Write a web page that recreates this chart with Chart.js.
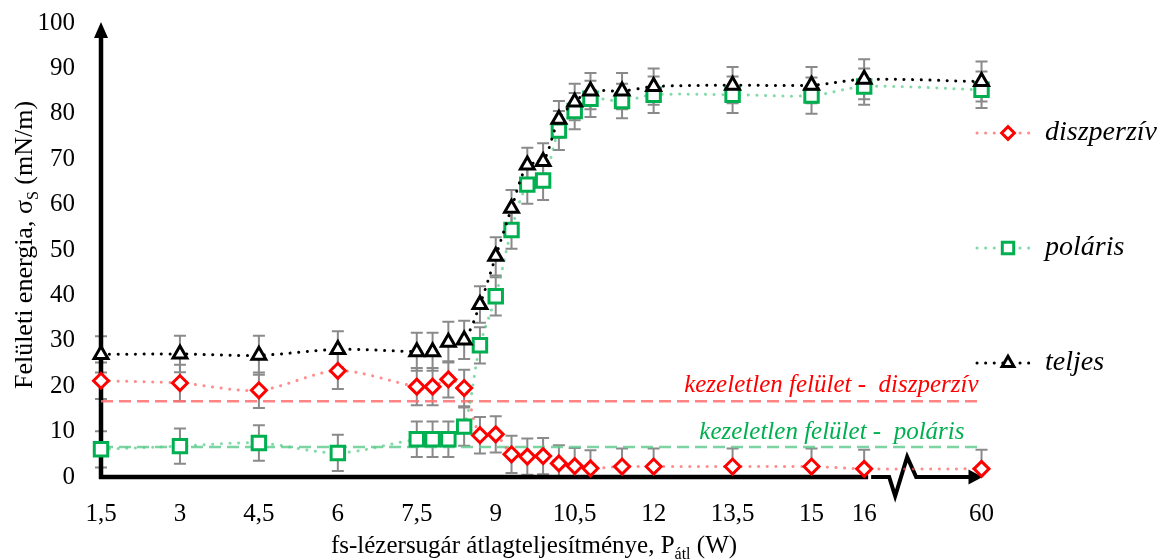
<!DOCTYPE html>
<html>
<head>
<meta charset="utf-8">
<script src="https://cdn.jsdelivr.net/npm/chart.js@4.4.1/dist/chart.umd.min.js"></script>
<style>
  html, body { margin: 0; padding: 0; background: #fff; }
  #wrap { width: 1167px; height: 560px; position: relative; }
</style>
</head>
<body>
<div id="wrap"><canvas id="chart"></canvas></div>
<script>
// átlagteljesítmény (W) - a 60 W pont a megtört tengely végén ül
const power = [1.5, 3, 4.5, 6, 7.5, 7.8, 8.1, 8.4, 8.7, 9, 9.3, 9.6, 9.9, 10.2, 10.5, 10.8, 11.4, 12, 13.5, 15, 16, 60];

const diszperziv = [21.2, 20.7, 19.1, 23.4, 19.9, 19.9, 21.5, 19.6, 9.2, 9.4, 5.0, 4.5, 4.6, 3.0, 2.4, 1.9, 2.3, 2.3, 2.3, 2.3, 1.8, 1.8];
const polaris    = [6.1, 6.8, 7.5, 5.3, 8.3, 8.3, 8.3, 11.1, 29.0, 39.8, 54.4, 64.4, 65.3, 76.3, 80.6, 83.3, 82.8, 84.2, 84.2, 84.0, 86.0, 85.3];
const teljes     = [27.0, 27.1, 26.8, 28.1, 27.6, 27.6, 29.7, 30.2, 38.0, 48.6, 59.2, 68.7, 69.5, 78.8, 82.6, 85.0, 85.0, 86.0, 86.3, 86.3, 87.6, 87.1];

// szórás (hibasávok)
const errDiszperziv = [4.0, 4.0, 3.9, 4.0, 4.1, 4.1, 4.0, 4.0, 4.0, 4.0, 4.1, 4.0, 4.0, 4.0, 4.0, 4.0, 4.0, 4.0, 4.0, 4.0, 4.2, 4.2];
const errPolaris    = [4.0, 3.9, 3.9, 4.0, 3.9, 3.9, 3.9, 4.2, 4.0, 4.2, 4.1, 4.2, 4.3, 4.3, 4.0, 4.0, 3.8, 4.0, 4.0, 4.0, 4.0, 4.0];
const errTeljes     = [4.0, 4.0, 4.3, 4.0, 4.2, 4.2, 4.5, 4.2, 4.0, 4.2, 4.0, 3.8, 4.0, 4.0, 4.0, 4.0, 4.0, 4.0, 4.0, 4.0, 4.4, 4.4];

// kezeletlen felület
const refDiszperziv = 16.7;
const refPolaris = 6.6;

const xTicks = [1.5, 3, 4.5, 6, 7.5, 9, 10.5, 12, 13.5, 15, 16, 60];
const yTicks = [0, 10, 20, 30, 40, 50, 60, 70, 80, 90, 100];

const BREAK_POS = 18.23;   // a 60 W helye a tengelyen
const X_MAX = 18.6;

const serif = "'Liberation Serif', 'Times New Roman', serif";

function axisPos(p) { return p === 60 ? BREAK_POS : p; }
function fmt(p) { return String(p).replace('.', ','); }

function series(label, values, errors, markerColor, lineColor, style, radius, order) {
    return {
        label: label,
        data: power.map((p, i) => ({ x: axisPos(p), y: values[i] })),
        errors: errors,
        inLegend: true,
        borderColor: lineColor,
        borderWidth: 3,
        borderDash: [0.1, 8.5],
        borderCapStyle: 'round',
        pointStyle: style,
        pointRadius: radius,
        pointHoverRadius: radius,
        pointBorderColor: markerColor,
        pointBackgroundColor: '#fff',
        pointBorderWidth: 3,
        tension: 0.3,
        clip: false,
        order: order
    };
}

function refLine(value, color, order) {
    return {
        label: 'ref',
        data: [{ x: 1.5, y: value }, { x: BREAK_POS, y: value }],
        borderColor: color,
        borderWidth: 2.5,
        borderDash: [12, 6],
        pointRadius: 0,
        tension: 0,
        order: order
    };
}

const datasets = [
    series('diszperzív', diszperziv, errDiszperziv, '#ff0000', 'rgba(255, 90, 90, 0.7)', 'rectRot', 7.5, 3),
    series('poláris', polaris, errPolaris, '#00b050', 'rgba(90, 205, 140, 0.75)', 'rect', 9.5, 2),
    series('teljes', teljes, errTeljes, '#000000', '#000000', 'triangle', 8, 1),
    refLine(refDiszperziv, 'rgba(255, 110, 110, 0.85)', 5),
    refLine(refPolaris, 'rgba(100, 205, 145, 0.85)', 6)
];

// hibasávok
const errorBars = {
    id: 'errorBars',
    beforeDatasetsDraw(chart) {
        const { ctx, scales: { x, y } } = chart;
        ctx.save();
        ctx.strokeStyle = '#8a8a8a';
        ctx.lineWidth = 2;
        chart.data.datasets.forEach(ds => {
            if (!ds.errors) return;
            ds.data.forEach((pt, i) => {
                const px = x.getPixelForValue(pt.x);
                const hi = pt.y + ds.errors[i];
                const lo = pt.y - ds.errors[i];
                const top = y.getPixelForValue(Math.min(100, hi));
                const bot = y.getPixelForValue(Math.max(0, lo));
                ctx.beginPath();
                ctx.moveTo(px, top);
                ctx.lineTo(px, bot);
                ctx.moveTo(px - 6, top);
                ctx.lineTo(px + 6, top);
                if (lo >= 0) {
                    ctx.moveTo(px - 6, bot);
                    ctx.lineTo(px + 6, bot);
                }
                ctx.stroke();
            });
        });
        ctx.restore();
    }
};

// tengelyek nyíllal, megtört x tengely
const brokenAxes = {
    id: 'brokenAxes',
    beforeDatasetsDraw(chart) {
        const { ctx, scales: { x, y } } = chart;
        const y0 = y.getPixelForValue(0);
        const yTop = y.getPixelForValue(100);
        const x0 = x.getPixelForValue(1.5);
        const xb = x.getPixelForValue(16);
        const xe = x.getPixelForValue(BREAK_POS);
        ctx.save();
        ctx.strokeStyle = '#000';
        ctx.fillStyle = '#000';
        ctx.lineWidth = 4.5;
        ctx.lineJoin = 'miter';
        ctx.beginPath();
        ctx.moveTo(x0, y0 + 2);
        ctx.lineTo(x0, yTop + 12);
        ctx.stroke();
        ctx.beginPath();
        ctx.moveTo(x0, yTop - 1);
        ctx.lineTo(x0 - 7, yTop + 15);
        ctx.lineTo(x0 + 7, yTop + 15);
        ctx.closePath();
        ctx.fill();

        ctx.beginPath();
        ctx.moveTo(x0 - 2, y0);
        ctx.lineTo(xb + 4, y0);
        ctx.stroke();

        ctx.lineWidth = 4;
        ctx.beginPath();
        ctx.moveTo(xb + 7, y0);
        ctx.lineTo(xb + 25, y0);
        ctx.lineTo(xb + 31, y0 + 19);
        ctx.lineTo(xb + 43, y0 - 20);
        ctx.lineTo(xb + 52, y0);
        ctx.lineTo(xe - 10, y0);
        ctx.stroke();
        ctx.beginPath();
        ctx.moveTo(xe + 1, y0);
        ctx.lineTo(xe - 13, y0 - 7.5);
        ctx.lineTo(xe - 13, y0 + 7.5);
        ctx.closePath();
        ctx.fill();
        ctx.restore();
    }
};

function drawRich(ctx, parts, size, cx, baseline) {
    const big = size + 'px ' + serif;
    const small = Math.round(size * 0.62) + 'px ' + serif;
    let total = 0;
    parts.forEach(p => {
        ctx.font = p.sub ? small : big;
        p.w = ctx.measureText(p.t).width;
        total += p.w;
    });
    let xx = cx - total / 2;
    ctx.textAlign = 'left';
    ctx.textBaseline = 'alphabetic';
    parts.forEach(p => {
        ctx.font = p.sub ? small : big;
        ctx.fillText(p.t, xx, baseline + (p.sub ? size * 0.22 : 0));
        xx += p.w;
    });
}

// tengelycímek (alsó indexekkel), feliratok, jelmagyarázat
const annotations = {
    id: 'annotations',
    afterDraw(chart) {
        const { ctx, scales: { x, y } } = chart;
        ctx.save();
        ctx.fillStyle = '#000';

        drawRich(ctx, [
            { t: 'fs-lézersugár átlagteljesítménye, P' },
            { t: 'átl', sub: true },
            { t: ' (W)' }
        ], 25, 534, 553);

        ctx.save();
        ctx.translate(23, 245);
        ctx.rotate(-Math.PI / 2);
        drawRich(ctx, [
            { t: 'Felületi energia, σ' },
            { t: 'S', sub: true },
            { t: ' (mN/m)' }
        ], 26, 0, 9);
        ctx.restore();

        const xr = x.getPixelForValue(BREAK_POS);
        ctx.font = 'italic 25px ' + serif;
        ctx.textAlign = 'right';
        ctx.textBaseline = 'alphabetic';
        ctx.fillStyle = '#ff0000';
        ctx.fillText('kezeletlen felület -  diszperzív', xr - 3, y.getPixelForValue(refDiszperziv) - 9);
        ctx.fillStyle = '#00b050';
        ctx.fillText('kezeletlen felület -  poláris', xr - 17, y.getPixelForValue(refPolaris) - 8);

        const rows = [133, 248, 363];
        const lx = 977;
        const items = chart.data.datasets.filter(d => d.inLegend);
        items.forEach((ds, i) => {
            const ly = rows[i];
            ctx.strokeStyle = ds.borderColor;
            ctx.lineWidth = ds.borderWidth;
            ctx.lineCap = 'round';
            ctx.setLineDash(ds.borderDash);
            ctx.beginPath();
            ctx.moveTo(lx, ly);
            ctx.lineTo(lx + 55, ly);
            ctx.stroke();
            ctx.setLineDash([]);
            ctx.lineCap = 'butt';
            ctx.strokeStyle = ds.pointBorderColor;
            ctx.fillStyle = '#fff';
            ctx.lineWidth = ds.pointBorderWidth;
            Chart.helpers.drawPoint(ctx, {
                pointStyle: ds.pointStyle,
                radius: ds.pointRadius * 0.85,
                rotation: 0,
                borderWidth: ds.pointBorderWidth
            }, lx + 31, ly);
            ctx.fillStyle = '#000';
            ctx.font = 'italic 28px ' + serif;
            ctx.textAlign = 'left';
            ctx.textBaseline = 'middle';
            ctx.fillText(ds.label, lx + 68, ly);
        });
        ctx.restore();
    }
};

const ctx = document.getElementById('chart').getContext('2d');

new Chart(ctx, {
    type: 'line',
    data: { datasets: datasets },
    options: {
        responsive: true,
        maintainAspectRatio: false,
        animation: false,
        layout: {
            padding: { top: 23, right: 166, bottom: 0, left: 0 }
        },
        plugins: {
            legend: { display: false },
            tooltip: { enabled: false }
        },
        scales: {
            x: {
                type: 'linear',
                min: 1.5,
                max: X_MAX,
                grid: { display: false, drawTicks: false },
                border: { display: false },
                afterFit: s => { s.height = 83; },
                afterBuildTicks: s => { s.ticks = xTicks.map(p => ({ value: axisPos(p) })); },
                ticks: {
                    autoSkip: false,
                    maxRotation: 0,
                    padding: 22,
                    color: '#000',
                    font: { family: serif, size: 25 },
                    callback: (v, i) => fmt(xTicks[i])
                }
            },
            y: {
                min: 0,
                max: 100,
                grid: { display: false, drawTicks: false },
                border: { display: false },
                afterFit: s => { s.width = 101; s.paddingTop = 0; s.paddingBottom = 0; },
                afterBuildTicks: s => { s.ticks = yTicks.map(v => ({ value: v })); },
                ticks: {
                    padding: 26,
                    color: '#000',
                    font: { family: serif, size: 25 }
                }
            }
        }
    },
    plugins: [errorBars, brokenAxes, annotations]
});
</script>
</body>
</html>
